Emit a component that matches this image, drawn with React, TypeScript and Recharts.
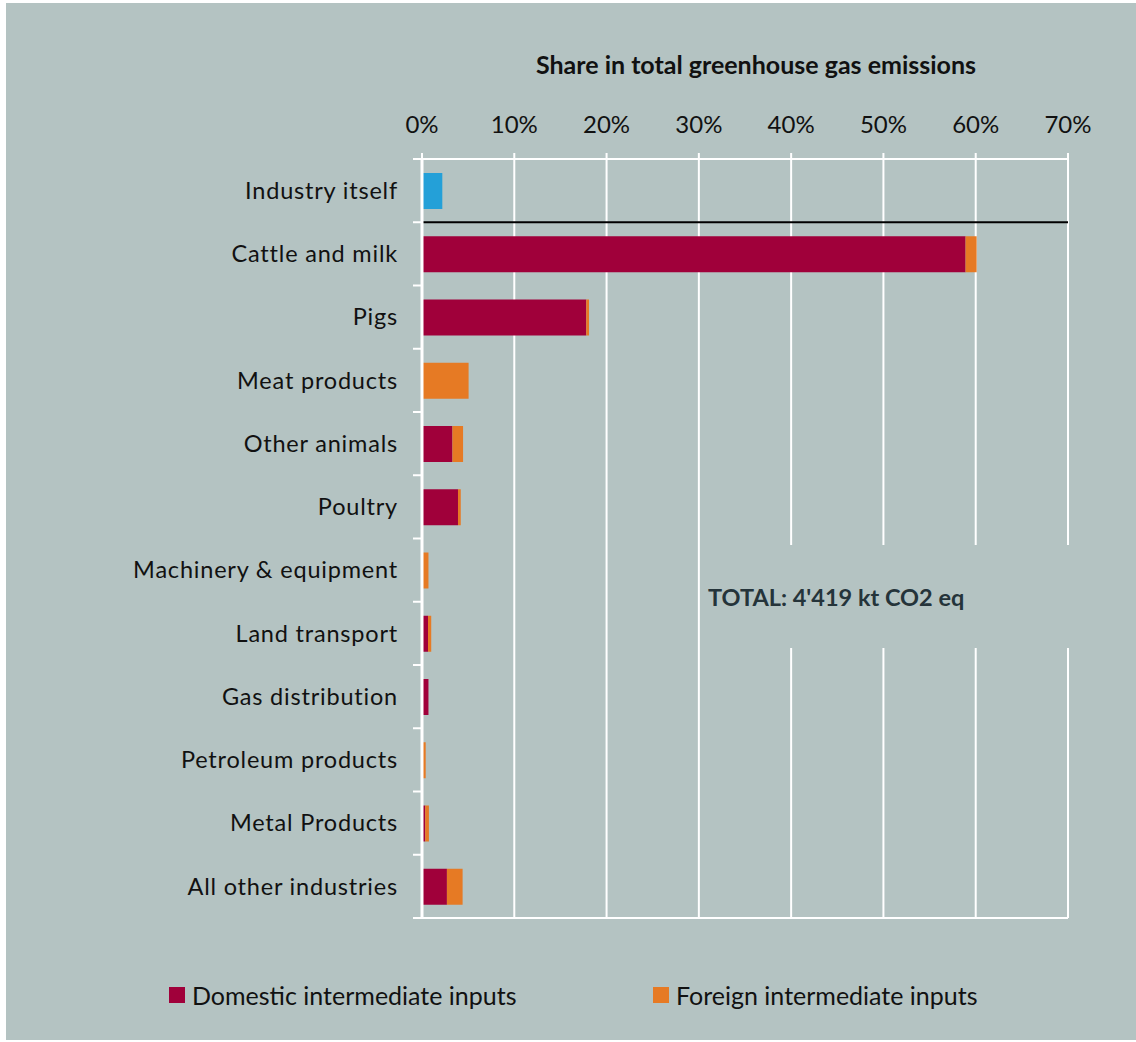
import { Bar, BarChart, CartesianGrid, ReferenceLine, XAxis, YAxis } from "recharts"

const industries = [
  "Industry itself",
  "Cattle and milk",
  "Pigs",
  "Meat products",
  "Other animals",
  "Poultry",
  "Machinery & equipment",
  "Land transport",
  "Gas distribution",
  "Petroleum products",
  "Metal Products",
  "All other industries",
]
// shares in %
const itself = [2.2, 0, 0, 0, 0, 0, 0, 0, 0, 0, 0, 0]
const domestic = [0, 58.9, 17.8, 0, 3.3, 3.9, 0, 0.65, 0.7, 0, 0.35, 2.7]
const foreign = [0, 1.2, 0.3, 5.05, 1.15, 0.3, 0.7, 0.35, 0, 0.4, 0.4, 1.7]
const xTicks = [0, 10, 20, 30, 40, 50, 60, 70]

const data = industries.map((name, i) => ({
  name,
  itself: itself[i],
  domestic: domestic[i],
  foreign: foreign[i],
}))

const BG = "#b4c3c2"
const RED = "#a0003a"
const ORANGE = "#e67a24"
const BLUE = "#24a0d8"
const FONT = "Lato, 'Open Sans', sans-serif"

// category label plus the short tick marks at the band edges (Excel style)
function CategoryTick(props: any) {
  const { x, y, payload, index } = props
  const half = payload.offset || 0
  const axisX = x + 24
  return (
    <g>
      <line x1={axisX - 9} x2={axisX} y1={y - half} y2={y - half} stroke="#fff" strokeWidth={2} />
      {index === industries.length - 1 && (
        <line x1={axisX - 9} x2={axisX} y1={y + half} y2={y + half} stroke="#fff" strokeWidth={2} />
      )}
      <text
        x={x}
        y={y}
        dy="0.35em"
        textAnchor="end"
        fill="#111"
        fontSize={23.5}
        letterSpacing={0.8}
        fontFamily={FONT}
      >
        {payload.value}
      </text>
    </g>
  )
}

export default function App() {
  return (
    <div
      style={{
        position: "fixed",
        left: 6,
        top: 3,
        width: 1130,
        height: 1037,
        background: BG,
        fontFamily: FONT,
      }}
    >
      <div
        style={{
          position: "absolute",
          left: 427,
          width: 646,
          top: 46,
          textAlign: "center",
          fontWeight: 700,
          fontSize: 25,
          lineHeight: "30px",
          color: "#111",
        }}
      >
        Share in total greenhouse gas emissions
      </div>
      <BarChart
        width={1130}
        height={1037}
        data={data}
        layout="vertical"
        barSize={36}
        margin={{ top: 116, right: 68, bottom: 122, left: 0 }}
        style={{ position: "absolute", left: 0, top: 0 }}
      >
        <CartesianGrid horizontal={false} stroke="#fff" strokeWidth={2} />
        <XAxis
          type="number"
          orientation="top"
          domain={[0, 70]}
          ticks={xTicks}
          height={40}
          tickFormatter={(v: number) => v + "%"}
          tick={{ fill: "#111", fontSize: 24, fontFamily: FONT }}
          tickLine={{ stroke: "#fff", strokeWidth: 2 }}
          tickSize={6}
          tickMargin={20}
          axisLine={{ stroke: "#fff", strokeWidth: 2 }}
        />
        <YAxis
          type="category"
          dataKey="name"
          width={416}
          tick={<CategoryTick />}
          tickLine={false}
          tickSize={6}
          tickMargin={18}
          interval={0}
          axisLine={{ stroke: "#fff", strokeWidth: 3 }}
        />
        <Bar dataKey="itself" stackId="s" fill={BLUE} isAnimationActive={false} />
        <Bar dataKey="domestic" stackId="s" fill={RED} isAnimationActive={false} />
        <Bar dataKey="foreign" stackId="s" fill={ORANGE} isAnimationActive={false} />
        <ReferenceLine
          y="Industry itself"
          position="end"
          stroke="#000"
          strokeWidth={2}
        />
        <ReferenceLine
          y="All other industries"
          position="end"
          stroke="#fff"
          strokeWidth={2}
        />
      </BarChart>
      <div
        style={{
          position: "absolute",
          left: 696,
          top: 542,
          width: 380,
          height: 103,
          background: BG,
          display: "flex",
          alignItems: "center",
          paddingLeft: 6,
          boxSizing: "border-box",
          fontWeight: 700,
          fontSize: 23.5,
          color: "#25343a",
        }}
      >
        TOTAL: 4'419 kt CO2 eq
      </div>
      <div
        style={{
          position: "absolute",
          top: 977,
          left: 163,
          display: "flex",
          alignItems: "center",
          fontSize: 25,
          color: "#111",
        }}
      >
        <span style={{ display: "inline-block", width: 16, height: 16, background: RED, marginRight: 7 }} />
        <span>Domestic intermediate inputs</span>
      </div>
      <div
        style={{
          position: "absolute",
          top: 977,
          left: 647,
          display: "flex",
          alignItems: "center",
          fontSize: 25,
          color: "#111",
        }}
      >
        <span style={{ display: "inline-block", width: 16, height: 16, background: ORANGE, marginRight: 7 }} />
        <span>Foreign intermediate inputs</span>
      </div>
    </div>
  )
}
